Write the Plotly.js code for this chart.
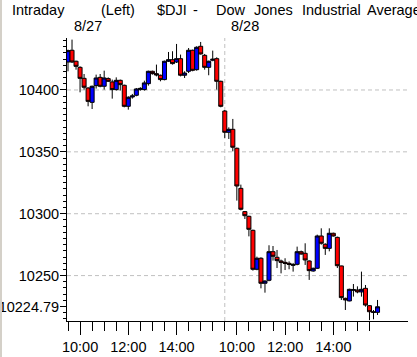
<!DOCTYPE html>
<html>
<head>
<meta charset="utf-8">
<script src="https://cdn.plot.ly/plotly-3.0.1.min.js"></script>
<style>html,body{margin:0;padding:0;background:#fff;}#chart{width:417px;height:357px;}</style>
</head>
<body>
<div id="chart"></div>
<script>
// ---- data ----
const days = ["8/27", "8/28"];
const sessionStart = "9:30";
const barMinutes = 10;

const day1Open  = [10422.6,10432.1,10423.2,10418.3,10409.4,10401.6,10390.0,10403.5,10410.2,10403.0,10409.2,10406.5,10400.3,10407.8,10403.8,10386.8,10394.3,10395.7,10400.3,10400.3,10405.1,10415.1,10413.2,10411.9,10408.4,10423.2,10424.5,10422.6,10425.3,10411.9,10415.1,10432.1,10416.4,10435.3,10428.0,10418.3,10424.0,10425.3,10407.0];
const day1High  = [10432.6,10440.7,10423.7,10419.1,10412.9,10402.2,10403.5,10412.4,10412.9,10415.6,10410.2,10408.4,10410.2,10408.4,10404.3,10394.9,10396.8,10401.6,10402.2,10407.5,10415.6,10415.6,10420.5,10412.4,10423.7,10430.7,10431.3,10437.2,10428.6,10415.1,10433.9,10432.6,10435.3,10438.8,10429.1,10423.7,10431.8,10426.4,10407.5];
const day1Low   = [10415.1,10421.8,10416.4,10398.1,10400.3,10386.8,10384.6,10401.1,10402.2,10400.3,10406.5,10393.0,10399.5,10399.5,10386.0,10384.1,10393.0,10394.9,10399.5,10399.5,10403.5,10412.4,10411.0,10407.0,10407.8,10422.6,10420.5,10421.8,10411.0,10409.7,10413.7,10415.1,10415.6,10428.6,10416.4,10411.9,10423.2,10400.3,10386.0];
const day1Close = [10431.8,10422.6,10419.1,10409.4,10402.2,10390.8,10403.0,10409.7,10403.0,10409.7,10407.0,10400.3,10407.8,10404.3,10386.8,10394.1,10395.2,10400.8,10401.3,10405.7,10415.1,10413.2,10412.1,10408.4,10423.2,10424.5,10421.3,10425.3,10411.9,10413.7,10432.1,10415.9,10434.5,10429.1,10418.3,10423.2,10424.8,10407.0,10386.8];

const day2Open  = [10383.0,10365.8,10368.2,10352.9,10320.5,10301.7,10297.9,10286.6,10255.1,10264.0,10243.8,10246.2,10269.3,10264.8,10261.8,10260.7,10259.9,10258.3,10259.1,10269.3,10268.0,10261.8,10253.7,10255.9,10282.0,10275.3,10272.0,10284.2,10280.9,10257.8,10231.6,10229.5,10238.1,10238.4,10236.8,10239.7,10225.7,10220.8,10220.3];
const day2High  = [10383.8,10369.8,10376.6,10353.4,10323.5,10302.2,10298.4,10287.1,10265.3,10264.8,10246.2,10274.5,10273.9,10270.7,10262.9,10264.0,10261.5,10260.2,10273.4,10270.2,10276.1,10262.3,10256.4,10283.1,10288.2,10276.1,10288.2,10284.7,10281.5,10258.0,10232.2,10239.4,10243.2,10241.3,10253.2,10242.4,10226.2,10222.2,10230.3];
const day2Low   = [10361.2,10360.4,10350.4,10310.6,10302.7,10295.7,10281.7,10254.0,10254.3,10239.7,10236.2,10245.4,10262.1,10256.1,10251.8,10254.5,10255.1,10253.2,10258.3,10266.9,10258.6,10246.5,10253.2,10255.3,10275.0,10266.7,10269.6,10281.5,10256.1,10230.3,10222.2,10229.2,10233.0,10235.7,10233.0,10224.9,10214.0,10214.7,10218.2];
const day2Close = [10365.8,10368.2,10353.7,10322.4,10303.6,10298.4,10287.4,10255.1,10264.0,10243.8,10245.6,10269.3,10265.6,10262.1,10260.7,10259.9,10259.1,10258.8,10269.3,10267.4,10262.6,10254.0,10255.9,10282.0,10276.1,10272.0,10284.2,10282.0,10258.0,10232.2,10230.3,10238.9,10238.6,10236.8,10238.9,10226.2,10220.8,10220.3,10224.79];

const yTickVals = [10400, 10350, 10300, 10250];
const xMajorHours = ["10:00", "12:00", "14:00"];
const minorStepMinutes = 30;
const titleWords = ["Intraday", "(Left)", "$DJI", "-", "Dow", "Jones", "Industrial", "Average"];

// ---- build ----
function toMin(s){ const p = s.split(":"); return (+p[0])*60 + (+p[1]); }
const sessMin = 390; // 9:30-16:00
const dayData = [[day1Open,day1High,day1Low,day1Close],[day2Open,day2High,day2Low,day2Close]];
const X=[],O=[],H=[],L=[],C=[];
dayData.forEach((d,di)=>{
  d[0].forEach((v,i)=>{
    X.push(di*sessMin + i*barMinutes);
    O.push(d[0][i]); H.push(d[1][i]); L.push(d[2][i]); C.push(d[3][i]);
  });
});
const lastClose = C[C.length-1];

const majorVals=[], majorText=[];
days.forEach((d,di)=>{
  xMajorHours.forEach(h=>{ majorVals.push(di*sessMin + toMin(h)-toMin(sessionStart)); majorText.push(h); });
});
const minorVals=[];
const lastBarT = X[X.length-1];
for(let t=0;t<=lastBarT;t+=minorStepMinutes) minorVals.push(t);

const FONT = "'Liberation Sans', Arial, sans-serif";
const FS = 14.5;

const trace = {
  type:'candlestick', x:X, open:O, high:H, low:L, close:C,
  increasing:{line:{color:'#000000',width:1}, fillcolor:'#0000ff'},
  decreasing:{line:{color:'#000000',width:1}, fillcolor:'#ff0000'},
  whiskerwidth:0, hoverinfo:'skip', showlegend:false
};

const PL=67, PR=408, PT=38, PB=321;
const pw=PR-PL, ph=PB-PT;
const px=(X)=> (X-PL)/pw;
const py=(Y)=> (PB-Y)/ph;

const shapes = [];
yTickVals.forEach(v=>shapes.push({type:'line',xref:'paper',yref:'y',x0:0,x1:1,y0:v,y1:v,layer:'below',
  line:{color:'#c0c0c0',width:1,dash:'4px,3px'}}));
shapes.push({type:'line',xref:'x',yref:'paper',x0:sessMin,x1:sessMin,y0:0,y1:1,layer:'below',
  line:{color:'#c0c0c0',width:1,dash:'4px,3px'}});
shapes.push({type:'rect',xref:'paper',yref:'paper',x0:px(0),x1:px(2),y0:py(357),y1:py(0),
  fillcolor:'#d4d0c8',line:{width:0},layer:'above'});

// left pixel positions of the title words as seen in the picture
const titleLeft = [11.7, 100, 156.7, 192.7, 215, 253, 301.7, 366.7];
const annotations = titleWords.map((w,i)=>({text:w, xref:'paper', yref:'paper', x:px(titleLeft[i]-1.5), y:py(10.5),
  xanchor:'left', yanchor:'middle', showarrow:false, font:{family:FONT,size:FS,color:'#000'}}));
days.forEach((d,di)=>annotations.push({text:d, xref:'x', yref:'paper', x:di*sessMin, y:py(26), xanchor:'left', yanchor:'middle', xshift:4, showarrow:false, font:{family:FONT,size:FS,color:'#000'}}));

const layout = {
  width:417, height:357,
  margin:{l:PL, r:417-PR, t:PT, b:357-PB, pad:0},
  paper_bgcolor:'#ffffff', plot_bgcolor:'#ffffff',
  boxgap:0, boxgroupgap:0,
  showlegend:false,
  xaxis:{
    range:[-2.5, 845.8], rangeslider:{visible:false}, fixedrange:true,
    showgrid:false, zeroline:false, showline:true, linecolor:'#000', linewidth:1,
    tickmode:'array', tickvals:majorVals, ticktext:majorText,
    ticks:'outside', ticklen:13, tickcolor:'#000', tickwidth:1,
    tickfont:{family:FONT,size:FS,color:'#000'}, ticklabelstandoff:0,
    minor:{tickmode:'array', tickvals:minorVals, ticks:'outside', ticklen:9, tickcolor:'#000', tickwidth:1, showgrid:false}
  },
  yaxis:{
    range:[10213.3, 10442.0], fixedrange:true,
    showgrid:false, zeroline:false, showline:true, linecolor:'#000', linewidth:1,
    tickmode:'array', tickvals:yTickVals.concat([lastClose]),
    ticktext:yTickVals.map(String).concat([lastClose.toFixed(2)]),
    ticks:'outside', ticklen:6, tickcolor:'#000', tickwidth:1,
    tickfont:{family:FONT,size:FS,color:'#000'}, ticklabelstandoff:-2,
    minor:{tickmode:'linear', tick0:0, dtick:5, ticks:'outside', ticklen:3, tickcolor:'#000', tickwidth:1, showgrid:false}
  },
  shapes:shapes, annotations:annotations
};
Plotly.newPlot('chart',[trace],layout,{staticPlot:true,displayModeBar:false});
</script>
</body>
</html>
